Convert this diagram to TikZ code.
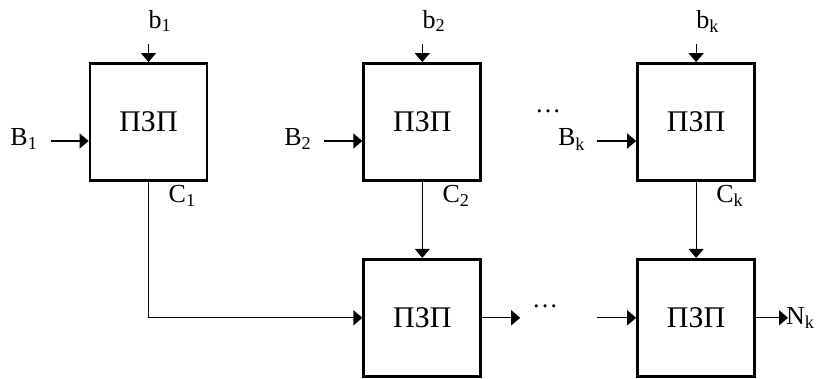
\documentclass[tikz,border=0pt]{standalone}
\usepackage{fontspec}
\setmainfont{Liberation Serif}
\usetikzlibrary{arrows.meta,positioning,calc}

\begin{document}
\begin{tikzpicture}[x=1pt, y=1pt, node distance=154pt, >={Triangle[length=9pt,width=15pt]},
    pzp/.style={rectangle, draw, line width=2.8pt, minimum width=117pt, minimum height=117pt, inner sep=0pt, font=\fontsize{30}{36}\selectfont},
    lbl/.style={inner sep=0pt, font=\fontsize{26}{30}\selectfont},
    link/.style={->, line width=1.2pt}]
    \useasboundingbox (0,0) rectangle (816,378);

    % upper row of converters
    \node[pzp] (pzp1) at (148.5,256) {ПЗП};
    \node[pzp, right=of pzp1] (pzp2) {ПЗП};
    \node[pzp, right=of pzp2] (pzpk) {ПЗП};
    % lower row
    \node[pzp, below=76pt of pzp2] (sum2) {ПЗП};
    \node[pzp, below=76pt of pzpk] (sumk) {ПЗП};

    % free ends of the input and output lines
    \coordinate[above=18pt of pzp1] (b1in);
    \coordinate[above=18pt of pzp2] (b2in);
    \coordinate[above=18pt of pzpk] (bkin);
    \coordinate (B1in) at ($(pzp1.west)+(-38pt,-19pt)$);
    \coordinate (B2in) at ($(pzp2.west)+(-38pt,-19pt)$);
    \coordinate (Bkin) at ($(pzpk.west)+(-39pt,-19pt)$);
    \coordinate[right=38pt of sum2] (out2);
    \coordinate[left=39pt of sumk] (ink);
    \coordinate[right=32pt of sumk] (outk);

    \draw[link] (b1in) -- (pzp1);
    \draw[link] (b2in) -- (pzp2);
    \draw[link] (bkin) -- (pzpk);
    \draw[link] (B1in) -- (B1in -| pzp1.west);
    \draw[link] (B2in) -- (B2in -| pzp2.west);
    \draw[link] (Bkin) -- (Bkin -| pzpk.west);
    \draw[link] (pzp1) |- (sum2);
    \draw[link] (pzp2) -- (sum2);
    \draw[link] (pzpk) -- (sumk);
    \draw[link] (sum2) -- (out2);
    \draw[link] (ink) -- (sumk);
    \draw[link] (sumk) -- (outk);

    % labels
    \node[lbl, anchor=base west] (lb1) at ($(b1in)+(0,16pt)$) {b\textsubscript{1}};
    \node[lbl, anchor=base west] (lb2) at ($(b2in)+(0,16pt)$) {b\textsubscript{2}};
    \node[lbl, anchor=base west] (lbk) at ($(bkin)+(0,16pt)$) {b\textsubscript{k}};
    \node[lbl, anchor=base east] (lB1) at ($(B1in)+(-13pt,-5pt)$) {B\textsubscript{1}};
    \node[lbl, anchor=base east] (lB2) at ($(B2in)+(-13pt,-5pt)$) {B\textsubscript{2}};
    \node[lbl, anchor=base east] (lBk) at ($(Bkin)+(-12pt,-5pt)$) {B\textsubscript{k}};
    \node[lbl, anchor=base west] (lC1) at ($(pzp1.south)+(20pt,-21pt)$) {C\textsubscript{1}};
    \node[lbl, anchor=base west] (lC2) at ($(pzp2.south)+(20pt,-21pt)$) {C\textsubscript{2}};
    \node[lbl, anchor=base west] (lCk) at ($(pzpk.south)+(20pt,-21pt)$) {C\textsubscript{k}};
    \node[lbl, anchor=base west] (lNk) at ($(outk)+(-2pt,-7pt)$) {N\textsubscript{k}};
    \node[lbl, anchor=base] (dots1) at ($(Bkin)+(-49pt,28pt)$) {\ldots};
    \node[lbl, anchor=base] (dots2) at (545,71) {\ldots};
\end{tikzpicture}
\end{document}
